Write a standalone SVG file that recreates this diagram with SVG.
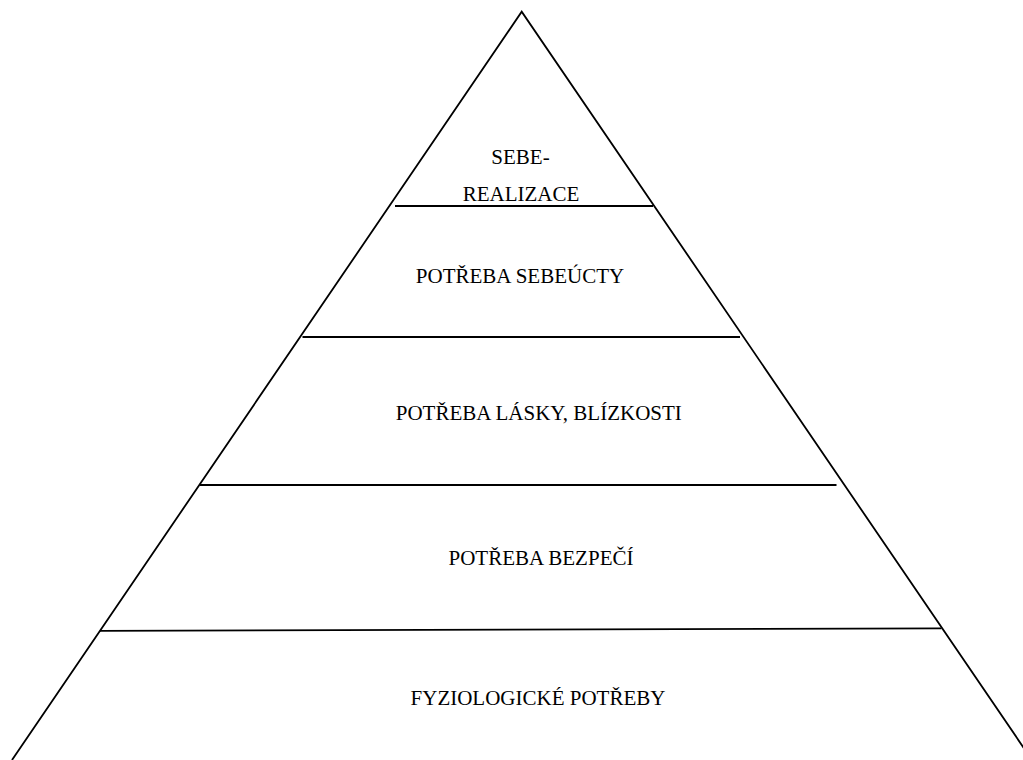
<svg xmlns="http://www.w3.org/2000/svg" width="1023" height="760" viewBox="0 0 1023 760">
<style>
.ln{stroke:#000;stroke-width:1.8;fill:none}
.t{font-family:"Liberation Serif","Times New Roman",serif;font-size:21px;fill:#000;text-anchor:middle}
</style>
<rect width="1023" height="760" fill="#fff"/>
<g id="pyramid">
<polyline class="ln" points="12,760 521.7,11.7 1032,760"/>
</g>
<g id="connectors">
<line class="ln" x1="395" y1="206" x2="653" y2="206"/>
<line class="ln" x1="302.5" y1="337" x2="740" y2="337"/>
<line class="ln" x1="200" y1="485" x2="836.5" y2="485"/>
<line class="ln" x1="100" y1="630.8" x2="941.5" y2="628.4"/>
</g>
<g id="level5"><text class="t" x="520.5" y="164.3">SEBE-</text><text class="t" x="521" y="201">REALIZACE</text></g>
<g id="level4"><text class="t" x="520" y="283.3">POTŘEBA SEBEÚCTY</text></g>
<g id="level3"><text class="t" x="538.8" y="420">POTŘEBA LÁSKY, BLÍZKOSTI</text></g>
<g id="level2"><text class="t" x="541" y="565">POTŘEBA BEZPEČÍ</text></g>
<g id="level1"><text class="t" x="538" y="705">FYZIOLOGICKÉ POTŘEBY</text></g>
</svg>
